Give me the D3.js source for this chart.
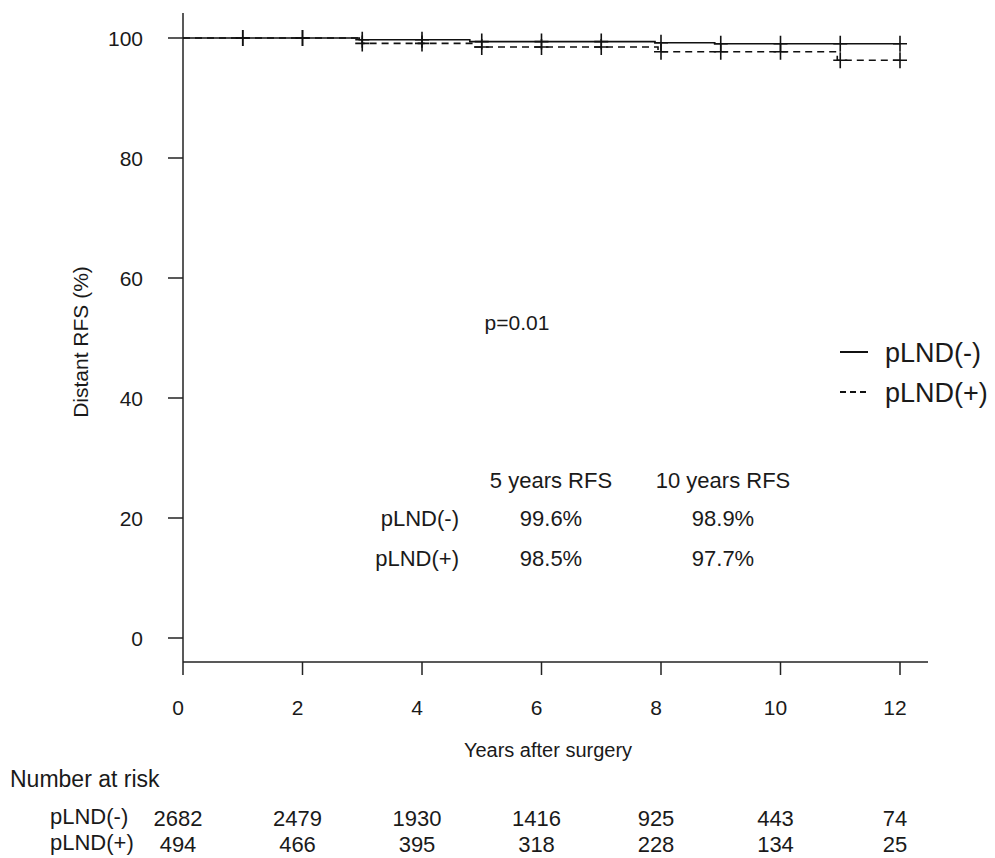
<!DOCTYPE html>
<html>
<head>
<meta charset="utf-8">
<script src="https://cdn.jsdelivr.net/npm/d3@7"></script>
<style>
	body { margin: 0; background: #fff; }
	svg text { font-family: "Liberation Sans", Arial, sans-serif; fill: #1a1a1a; }
</style>
</head>
<body>
<svg id="chart" width="995" height="858"></svg>
<script>
// survival curves, step points [years, percent]
var survNeg = [[0, 100], [2.95, 99.7], [4.8, 99.4], [7.9, 99.2], [8.9, 99.05]];
var survPos = [[0, 100], [3.0, 99.1], [4.85, 98.5], [7.95, 97.7], [10.95, 96.3]];
var censorTimes = [1, 2, 3, 4, 5, 6, 7, 8, 9, 10, 11, 12];
var groups = ["pLND(-)", "pLND(+)"];
var xTicks = [0, 2, 4, 6, 8, 10, 12];
var yTicks = [0, 20, 40, 60, 80, 100];
var riskTimes = [0, 2, 4, 6, 8, 10, 12];
var riskNeg = [2682, 2479, 1930, 1416, 925, 443, 74];
var riskPos = [494, 466, 395, 318, 228, 134, 25];
var rfsHeaders = ["5 years RFS", "10 years RFS"];
var rfsNeg = ["99.6%", "98.9%"];
var rfsPos = ["98.5%", "97.7%"];
var pText = "p=0.01";

var svg = d3.select("#chart");
var endT = 12;

var x = d3.scaleLinear().domain([0, 12]).range([183, 900]);
var y = d3.scaleLinear().domain([0, 100]).range([638, 38]);

/*
axes
*/
var g = svg.append("g");
g.append("line")
	.attr("x1", x(0)).attr("x2", 928)
	.attr("y1", 662).attr("y2", 662)
	.attr("stroke", "#222").attr("stroke-width", 1.5);
g.append("line")
	.attr("x1", x(0)).attr("x2", x(0))
	.attr("y1", 13).attr("y2", 662)
	.attr("stroke", "#222").attr("stroke-width", 1.5);

g.selectAll("line.xt")
	.data(xTicks).enter()
	.append("line")
	.attr("class", "xt")
	.attr("x1", function(d) { return x(d); })
	.attr("x2", function(d) { return x(d); })
	.attr("y1", 662).attr("y2", 675)
	.attr("stroke", "#222").attr("stroke-width", 1.5);
g.selectAll("text.xl")
	.data(xTicks).enter()
	.append("text")
	.attr("class", "xl")
	.attr("x", function(d) { return x(d) - 5; })
	.attr("y", 715)
	.attr("text-anchor", "middle")
	.attr("font-size", 21)
	.text(function(d) { return d; });

g.selectAll("line.yt")
	.data(yTicks).enter()
	.append("line")
	.attr("class", "yt")
	.attr("x1", 168).attr("x2", x(0))
	.attr("y1", function(d) { return y(d); })
	.attr("y2", function(d) { return y(d); })
	.attr("stroke", "#222").attr("stroke-width", 1.5);
g.selectAll("text.yl")
	.data(yTicks).enter()
	.append("text")
	.attr("class", "yl")
	.attr("x", 143)
	.attr("y", function(d) { return y(d) + 8; })
	.attr("text-anchor", "end")
	.attr("font-size", 21)
	.text(function(d) { return d; });

svg.append("text")
	.attr("transform", "translate(88,342) rotate(-90)")
	.attr("text-anchor", "middle")
	.attr("font-size", 21)
	.text("Distant RFS (%)");
svg.append("text")
	.attr("x", 548).attr("y", 757)
	.attr("text-anchor", "middle")
	.attr("font-size", 20)
	.text("Years after surgery");

/*
curves
*/
function stepVal(pts, t) {
	var v = pts[0][1];
	pts.forEach(function(p) { if (p[0] <= t) v = p[1]; });
	return v;
}
var line = d3.line()
	.x(function(d) { return x(d[0]); })
	.y(function(d) { return y(d[1]); })
	.curve(d3.curveStepAfter);

[survNeg, survPos].forEach(function(pts, i) {
	var full = pts.concat([[endT, pts[pts.length - 1][1]]]);
	svg.append("path")
		.attr("d", line(full))
		.attr("fill", "none")
		.attr("stroke", "#111")
		.attr("stroke-width", 1.6)
		.attr("stroke-dasharray", i == 1 ? "7,5" : null);
	svg.selectAll("path.cm" + i)
		.data(censorTimes).enter()
		.append("path")
		.attr("class", "cm" + i)
		.attr("d", function(t) {
			var cx = x(t), cy = y(stepVal(pts, t));
			return "M" + (cx - 7) + "," + cy + "H" + (cx + 7) + "M" + cx + "," + (cy - 8) + "V" + (cy + 8);
		})
		.attr("stroke", "#111")
		.attr("stroke-width", 1.6);
});

/*
p value, legend, RFS table
*/
svg.append("text")
	.attr("x", 517).attr("y", 330)
	.attr("text-anchor", "middle")
	.attr("font-size", 21)
	.text(pText);

var leg = svg.append("g");
groups.forEach(function(name, i) {
	var ly = 352 + i * 40;
	leg.append("line")
		.attr("x1", 840).attr("x2", 868)
		.attr("y1", ly).attr("y2", ly)
		.attr("stroke", "#111").attr("stroke-width", 2)
		.attr("stroke-dasharray", i == 1 ? "6,4" : null);
	leg.append("text")
		.attr("x", 885).attr("y", ly + 10)
		.attr("font-size", 27)
		.text(name);
});

var colX = [551, 723];
rfsHeaders.forEach(function(h, j) {
	svg.append("text")
		.attr("x", colX[j]).attr("y", 488)
		.attr("text-anchor", "middle")
		.attr("font-size", 22)
		.text(h);
});
[rfsNeg, rfsPos].forEach(function(row, i) {
	var ry = 526 + i * 40;
	svg.append("text")
		.attr("x", 459).attr("y", ry)
		.attr("text-anchor", "end")
		.attr("font-size", 22)
		.text(groups[i]);
	row.forEach(function(v, j) {
		svg.append("text")
			.attr("x", colX[j]).attr("y", ry)
			.attr("text-anchor", "middle")
			.attr("font-size", 22)
			.text(v);
	});
});

/*
number at risk
*/
svg.append("text")
	.attr("x", 10).attr("y", 787)
	.attr("font-size", 23)
	.text("Number at risk");
[riskNeg, riskPos].forEach(function(row, i) {
	var ry = 824 + i * 26;
	svg.append("text")
		.attr("x", 50).attr("y", ry)
		.attr("font-size", 22)
		.text(groups[i]);
	svg.selectAll("text.risk" + i)
		.data(row).enter()
		.append("text")
		.attr("class", "risk" + i)
		.attr("x", function(d, k) { return x(riskTimes[k]) - 5; })
		.attr("y", ry + 2)
		.attr("text-anchor", "middle")
		.attr("font-size", 22)
		.text(function(d) { return d; });
});
</script>
</body>
</html>
